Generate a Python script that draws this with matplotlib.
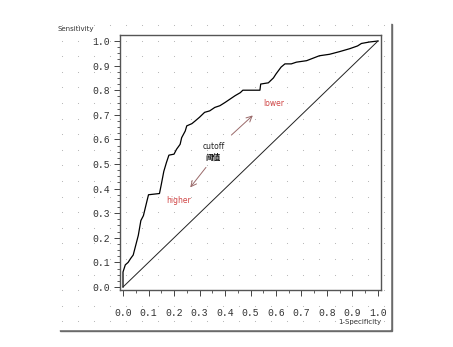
import matplotlib
matplotlib.use("Agg")
import matplotlib.pyplot as plt
from matplotlib.patches import Rectangle
from matplotlib.ticker import MultipleLocator
import numpy as np

# ROC curve
fpr = [0.0, 0.0, 0.009, 0.02, 0.03, 0.04, 0.05, 0.06, 0.07, 0.08, 0.094,
       0.10, 0.143, 0.15, 0.16, 0.17, 0.18, 0.20, 0.21, 0.224, 0.23, 0.244,
       0.25, 0.27, 0.283, 0.30, 0.32, 0.34, 0.36, 0.38, 0.40, 0.42, 0.44,
       0.46, 0.47, 0.537, 0.54, 0.57, 0.59, 0.60, 0.62, 0.635, 0.66, 0.68,
       0.72, 0.745, 0.77, 0.81, 0.85, 0.89, 0.92, 0.935, 0.967, 1.0]
tpr = [0.0, 0.061, 0.09, 0.10, 0.116, 0.13, 0.17, 0.21, 0.27, 0.29, 0.35,
       0.375, 0.38, 0.416, 0.47, 0.505, 0.536, 0.54, 0.56, 0.58, 0.607,
       0.634, 0.655, 0.664, 0.675, 0.69, 0.71, 0.716, 0.73, 0.737, 0.75,
       0.764, 0.778, 0.79, 0.80, 0.80, 0.825, 0.83, 0.85, 0.866, 0.894,
       0.907, 0.907, 0.914, 0.92, 0.93, 0.94, 0.946, 0.957, 0.969, 0.98,
       0.99, 0.996, 1.0]
ticks = [0.0, 0.1, 0.2, 0.3, 0.4, 0.5, 0.6, 0.7, 0.8, 0.9, 1.0]

W, H = 453, 347
fig = plt.figure(figsize=(W / 100, H / 100), dpi=100)

# background panel with shadow and dotted grid (pixel coordinates)
bg = fig.add_axes([0, 0, 1, 1])
bg.set_xlim(0, W)
bg.set_ylim(H, 0)
bg.axis("off")
bg.add_patch(Rectangle((60, 24), 332, 307, color="#6a6a6a", zorder=1))
bg.add_patch(Rectangle((58, 22), 332, 307, color="white", zorder=2))
gx, gy = np.meshgrid(np.arange(61.7, 390, 16.1), np.arange(25, 328, 15.6))
bg.scatter(gx.ravel(), gy.ravel(), s=0.6, color="#b0b0b0", lw=0, zorder=3)
bg.text(58, 29, "Sensitivity", fontsize=5, color="#333333", va="center")
bg.text(381, 322, "1-Specificity", fontsize=5, color="#333333",
        va="center", ha="right")

ax = fig.add_axes([120 / W, 57 / H, 261 / W, 255 / H])
ax.set_facecolor("none")
ax.plot(fpr, tpr, color="black", lw=0.9)
ax.plot([0, 1], [0, 1], color="#222222", lw=0.7)
ax.set_xlim(-0.0118, 1.0118)
ax.set_ylim(-0.0122, 1.0244)

ax.set_xticks(ticks)
ax.set_yticks(ticks)
ax.xaxis.set_minor_locator(MultipleLocator(0.05))
ax.yaxis.set_minor_locator(MultipleLocator(0.025))
ax.set_xticklabels([f"{t:.1f}" for t in ticks])
ax.set_yticklabels([f"{t:.1f}" for t in ticks])
for lab in ax.get_xticklabels() + ax.get_yticklabels():
    lab.set_family("Liberation Mono")
    lab.set_fontsize(7)
    lab.set_color("#333333")
ax.tick_params(axis="both", which="major", length=4, width=0.7,
               color="#444444")
ax.tick_params(axis="both", which="minor", length=2, width=0.6,
               color="#444444")
ax.tick_params(axis="x", which="major", pad=9)
ax.tick_params(axis="y", which="major", pad=3)
for s in ax.spines.values():
    s.set_color("#555555")
    s.set_linewidth(1.0)

# annotations
arrow_col = "#9a6a6a"
ax.annotate("", xy=(0.517, 0.705), xytext=(0.417, 0.61),
            arrowprops=dict(arrowstyle="->", color=arrow_col, lw=0.7))
ax.annotate("", xy=(0.257, 0.396), xytext=(0.332, 0.495),
            arrowprops=dict(arrowstyle="->", color=arrow_col, lw=0.7))
ax.text(0.355, 0.573, "cutoff", fontsize=5.5, color="#222222",
        ha="center", va="center")
ax.text(0.352, 0.528, "阈值", fontsize=5.5, color="#111111",
        ha="center", va="center", weight="bold",
        family=["Noto Sans CJK SC", "DejaVu Sans"])
ax.text(0.59, 0.746, "lower", fontsize=5.5, color="#d04545",
        ha="center", va="center")
ax.text(0.22, 0.35, "higher", fontsize=5.5, color="#d04545",
        ha="center", va="center")

fig.savefig("out.png", dpi=100)
